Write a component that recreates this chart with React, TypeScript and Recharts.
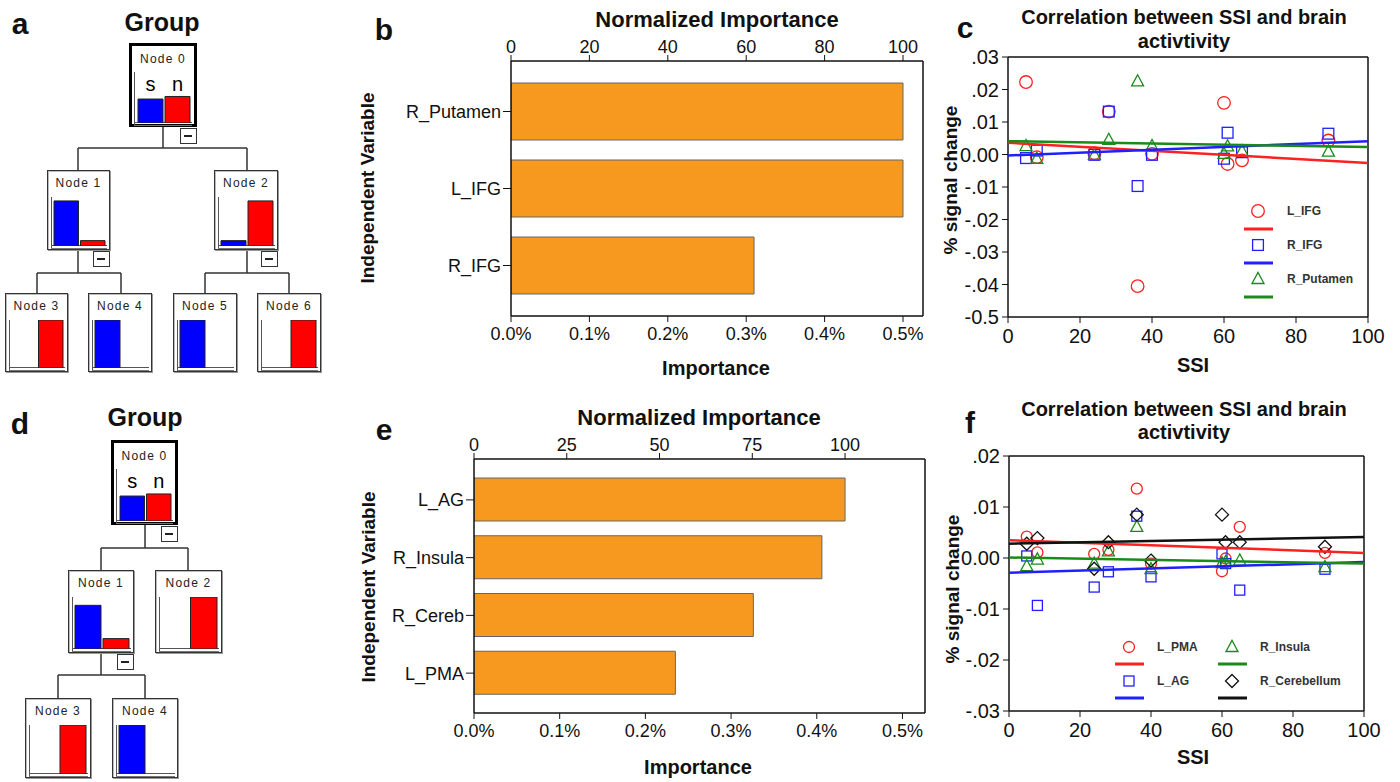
import React from 'react';
import { BarChart, Bar, Cell, XAxis, YAxis, ScatterChart, Scatter, Legend } from 'recharts';

const FONT = '"Liberation Sans", Arial, Helvetica, sans-serif';

// decision trees (a, d): bar height of s / n in each node, % of node scale
const treeALabels = ['Node 0', 'Node 1', 'Node 2', 'Node 3', 'Node 4', 'Node 5', 'Node 6'];
const treeAS = [47, 92, 11, 0, 100, 100, 0];
const treeAN = [52, 11, 92, 100, 0, 0, 100];
const treeDLabels = ['Node 0', 'Node 1', 'Node 2', 'Node 3', 'Node 4'];
const treeDS = [48, 84, 0, 0, 100];
const treeDN = [52, 20, 100, 100, 0];

// importance (b, e)
const bVars = ['R_Putamen', 'L_IFG', 'R_IFG'];
const bImportance = [0.5, 0.5, 0.31];
const bNormTicks = [0, 20, 40, 60, 80, 100];
const eVars = ['L_AG', 'R_Insula', 'R_Cereb', 'L_PMA'];
const eImportance = [0.433, 0.406, 0.326, 0.235];
const eNormTicks = [0, 25, 50, 75, 100];
const impTicks = [0, 0.1, 0.2, 0.3, 0.4, 0.5];

// scatter (c, f)
const ssi = [5, 8, 24, 28, 36, 40, 60, 61, 65, 89];
const ssiTicks = [0, 20, 40, 60, 80, 100];
const fitX = [0, 100];

const cLIFG = [0.0223, -0.0008, 0.0004, 0.0132, -0.0405, 0.0002, 0.0159, -0.0029, -0.0018, 0.0043];
const cRIFG = [-0.0011, 0.0012, -0.0001, 0.0132, -0.0097, -0.0001, -0.0013, 0.0067, 0.0007, 0.0064];
const cRPut = [0.0026, -0.0013, -0.0001, 0.0045, 0.0225, 0.0026, 0.0002, 0.0025, 0.001, 0.0009];
const cFitLIFG = [0.0036, -0.0026];
const cFitRIFG = [-0.0003, 0.0041];
const cFitRPut = [0.0041, 0.0023];
const cYTicks = [0.03, 0.02, 0.01, 0, -0.01, -0.02, -0.03, -0.04, -0.05];
const cYLabels = ['.03', '.02', '.01', '0.00', '-.01', '-.02', '-.03', '-.04', '-0.5'];

const fLPMA = [0.0042, 0.0011, 0.0008, 0.0016, 0.0136, -0.0011, -0.0026, -0.0001, 0.0061, 0.001];
const fLAG = [0.0004, -0.0093, -0.0057, -0.0027, 0.0082, -0.0037, 0.0008, -0.0011, -0.0063, -0.0022];
const fRIns = [-0.0016, -0.0003, -0.0011, 0.0013, 0.0061, -0.0022, -0.001, -0.0008, -0.0005, -0.0018];
const fRCer = [0.0028, 0.0039, -0.0021, 0.0031, 0.0085, -0.0005, 0.0085, 0.0031, 0.0031, 0.0022];
const fFitLPMA = [0.0035, 0.001];
const fFitLAG = [-0.0029, -0.0008];
const fFitRIns = [0.0001, -0.0011];
const fFitRCer = [0.0028, 0.0041];
const fYTicks = [0.02, 0.01, 0, -0.01, -0.02, -0.03];
const fYLabels = ['.02', '.01', '0.00', '-.01', '-.02', '-.03'];

const RED = '#ff2020';
const BLUE = '#2020ff';
const GREEN = '#1a8a1a';
const BLACK = '#111';
const ORANGE = '#F7991F';

const T = ({ x, y, size, bold = true, rotate = 0, children }: any) => (
  <div
    style={{
      position: 'absolute', left: x, top: y, lineHeight: 1, whiteSpace: 'nowrap',
      transform: `translate(-50%, -50%) rotate(${rotate}deg)`,
      fontSize: size, fontWeight: bold ? 700 : 400, color: '#111',
    }}
  >
    {children}
  </div>
);

// ---------- tree nodes ----------
const TreeNode = ({ x, y, w, h, label, s, n, root }: any) => {
  const b = root ? 3 : 1;
  const plotTop = root ? 29 : 27;
  const axisX = root ? 5 : 4;
  const chartL = root ? 8 : 6;
  const chartR = root ? w - 6 : w - 4;
  const plotH = h - 4 - plotTop;
  const cw = chartR - chartL;
  const data = [{ k: 's', v: s }, { k: 'n', v: n }];
  return (
    <div
      style={{
        position: 'absolute', left: x, top: y, width: w, height: h, boxSizing: 'border-box',
        border: root ? '3px solid #000' : '1px solid #333', background: '#fff',
        boxShadow: root ? 'none' : 'inset 1px 1px 0 #bbb, 1px 1px 0 #999',
      }}
    >
      <div style={{ position: 'absolute', left: 0, right: 0, top: (root ? 16 : 13) - b - 6, textAlign: 'center', fontSize: 12, letterSpacing: 1.2, lineHeight: '12px', color: '#222' }}>
        {label}
      </div>
      {root && (
        <>
          <div style={{ position: 'absolute', left: chartL - b + cw / 4 - 10, width: 20, top: 41 - b - 10, textAlign: 'center', fontSize: 20, lineHeight: '20px' }}>s</div>
          <div style={{ position: 'absolute', left: chartL - b + (3 * cw) / 4 - 10, width: 20, top: 41 - b - 10, textAlign: 'center', fontSize: 20, lineHeight: '20px' }}>n</div>
        </>
      )}
      <div style={{ position: 'absolute', left: axisX - b, top: plotTop - b, height: plotH + 2, width: 0, borderLeft: '1.5px solid #555' }} />
      <div style={{ position: 'absolute', left: axisX - b, top: plotTop - b + plotH - 1, width: chartR - axisX + 1, height: 2, borderTop: '1px solid #555', borderBottom: '1px solid #777' }} />
      <div style={{ position: 'absolute', left: chartL - b, top: plotTop - b }}>
        <BarChart width={cw} height={plotH} data={data} margin={{ top: 0, right: 0, bottom: 0, left: 0 }} barCategoryGap={1}>
          <XAxis dataKey="k" hide />
          <YAxis hide domain={[0, 100]} />
          <Bar dataKey="v" barSize={cw / 2 - 2} stroke="#222" strokeWidth={1} isAnimationActive={false}>
            <Cell fill="#0000ff" />
            <Cell fill="#ff0000" />
          </Bar>
        </BarChart>
      </div>
    </div>
  );
};

const Minus = ({ x, y, w, h }: any) => (
  <div style={{ position: 'absolute', left: x + w - 17, top: y + h + 1, width: 17, height: 16, boxSizing: 'border-box', border: '1.5px solid #333', background: '#fff' }}>
    <div style={{ position: 'absolute', left: 3, top: 6, width: 8, borderTop: '2px solid #222' }} />
  </div>
);

const Links = ({ lines }: any) => (
  <svg width={1400} height={782} style={{ position: 'absolute', left: 0, top: 0 }}>
    {lines.map((l: number[], i: number) => (
      <line key={i} x1={l[0]} y1={l[1]} x2={l[2]} y2={l[3]} stroke="#333" strokeWidth={1.5} />
    ))}
  </svg>
);

const posA = [
  { x: 129, y: 43, w: 68, h: 84 }, { x: 47, y: 170, w: 63, h: 80 }, { x: 214, y: 170, w: 64, h: 80 },
  { x: 5, y: 293, w: 63, h: 79 }, { x: 88, y: 293, w: 64, h: 79 }, { x: 173, y: 293, w: 64, h: 79 },
  { x: 257, y: 293, w: 64, h: 79 },
];
const linksA = [
  [163, 127, 163, 148], [78, 148, 247, 148], [78, 148, 78, 170], [247, 148, 247, 170],
  [78, 250, 78, 273], [37, 273, 121, 273], [37, 273, 37, 293], [121, 273, 121, 293],
  [247, 250, 247, 273], [205, 273, 289, 273], [205, 273, 205, 293], [289, 273, 289, 293],
];
const posD = [
  { x: 111, y: 440, w: 67, h: 85 }, { x: 68, y: 570, w: 66, h: 83 }, { x: 155, y: 570, w: 67, h: 83 },
  { x: 25, y: 698, w: 66, h: 80 }, { x: 112, y: 698, w: 66, h: 80 },
];
const linksD = [
  [145, 525, 145, 548], [101, 548, 188, 548], [101, 548, 101, 570], [188, 548, 188, 570],
  [101, 653, 101, 675], [58, 675, 145, 675], [58, 675, 58, 698], [145, 675, 145, 698],
];

// ---------- importance bars ----------
const axisStroke = { stroke: '#111', strokeWidth: 1.5 };

const ImportanceChart = ({ left, top, width, height, margin, vars, imp, normTicks, impMax, barSize, pad }: any) => {
  const data = vars.map((name: string, i: number) => ({ name, imp: imp[i] }));
  const normMax = (impMax / Math.max(...imp)) * 100;
  return (
    <div style={{ position: 'absolute', left, top }}>
      <BarChart layout="vertical" width={width} height={height} data={data} margin={margin}>
        <XAxis xAxisId="imp" type="number" orientation="bottom" domain={[0, impMax]} ticks={impTicks} allowDataOverflow
          tickFormatter={(v: number) => v.toFixed(1) + '%'} height={30} tickSize={6} tickMargin={5}
          tick={{ fill: '#111', fontSize: 18 }} axisLine={axisStroke} tickLine={{ stroke: '#111' }} interval={0} />
        <XAxis xAxisId="norm" type="number" orientation="top" domain={[0, normMax]} ticks={normTicks} allowDataOverflow
          height={30} tickSize={6} tickMargin={2} tick={{ fill: '#111', fontSize: 18 }} axisLine={axisStroke} tickLine={{ stroke: '#111' }} interval={0} />
        <YAxis yAxisId="v" type="category" dataKey="name" width={100} tickSize={8} tickMargin={2} padding={pad}
          tick={{ fill: '#111', fontSize: 18 }} axisLine={axisStroke} tickLine={{ stroke: '#111' }} interval={0} />
        <YAxis yAxisId="r" type="category" dataKey="name" orientation="right" width={1} padding={pad}
          tick={false} tickLine={false} axisLine={axisStroke} />
        <Bar xAxisId="imp" yAxisId="v" dataKey="imp" fill={ORANGE} stroke="#666" strokeWidth={1} barSize={barSize} isAnimationActive={false} />
      </BarChart>
    </div>
  );
};

// ---------- scatter ----------
const marker = (kind: string, cx: number, cy: number, color: string, s: number, key?: any) => {
  const common = { fill: 'none', stroke: color, strokeWidth: 1.3 };
  if (kind === 'circle') return <circle key={key} cx={cx} cy={cy} r={s} {...common} />;
  if (kind === 'square') return <rect key={key} x={cx - s} y={cy - s} width={2 * s} height={2 * s} {...common} />;
  if (kind === 'triangle')
    return <polygon key={key} points={`${cx},${cy - s * 1.1} ${cx - s},${cy + s * 0.75} ${cx + s},${cy + s * 0.75}`} {...common} />;
  return <polygon key={key} points={`${cx},${cy - s} ${cx + s},${cy} ${cx},${cy + s} ${cx - s},${cy}`} {...common} />;
};

const ScatterPanel = ({ left, top, width, height, margin, yDomain, yTicks, yLabels, series, fits, legend, legendPos }: any) => {
  const fmt = (v: number) => {
    const i = yTicks.findIndex((t: number) => Math.abs(t - v) < 1e-9);
    return i >= 0 ? yLabels[i] : '';
  };
  return (
    <div style={{ position: 'absolute', left, top }}>
      <ScatterChart width={width} height={height} margin={margin}>
        <XAxis xAxisId="x" type="number" dataKey="x" domain={[0, 100]} ticks={ssiTicks} height={30} tickSize={6} tickMargin={6}
          tick={{ fill: '#111', fontSize: 20 }} axisLine={axisStroke} tickLine={{ stroke: '#111' }} interval={0} />
        <XAxis xAxisId="xt" type="number" orientation="top" domain={[0, 100]} height={1} tick={false} tickLine={false} axisLine={axisStroke} />
        <YAxis yAxisId="y" type="number" dataKey="y" domain={yDomain} ticks={yTicks} tickFormatter={fmt} width={62} tickSize={6} tickMargin={3}
          tick={{ fill: '#111', fontSize: 20 }} axisLine={axisStroke} tickLine={{ stroke: '#111' }} interval={0} allowDataOverflow />
        <YAxis yAxisId="yr" type="number" orientation="right" domain={yDomain} width={1} tick={false} tickLine={false} axisLine={axisStroke} allowDataOverflow />
        {series.map((s: any) => (
          <Scatter key={s.name} name={s.name} xAxisId="x" yAxisId="y" data={ssi.map((x, i) => ({ x, y: s.ys[i] }))}
            shape={(p: any) => marker(s.kind, p.cx, p.cy, s.color, s.size)} isAnimationActive={false} />
        ))}
        {fits.map((f: any, j: number) => (
          <Scatter key={'fit' + j} xAxisId="x" yAxisId="y" data={fitX.map((x, i) => ({ x, y: f.ys[i] }))}
            line={{ stroke: f.color, strokeWidth: 2.5 }} shape={() => <g />} legendType="none" isAnimationActive={false} />
        ))}
        <Legend layout="vertical" align="center" verticalAlign="middle" content={legend}
          wrapperStyle={{ left: legendPos.left, top: legendPos.top, width: legendPos.width, height: legendPos.height }} />
      </ScatterChart>
    </div>
  );
};

const cSeries = [
  { name: 'L_IFG', ys: cLIFG, color: RED, kind: 'circle', size: 6.3 },
  { name: 'R_IFG', ys: cRIFG, color: BLUE, kind: 'square', size: 5.4 },
  { name: 'R_Putamen', ys: cRPut, color: GREEN, kind: 'triangle', size: 6 },
];
const cFits = [
  { ys: cFitLIFG, color: RED }, { ys: cFitRIFG, color: BLUE }, { ys: cFitRPut, color: GREEN },
];
const fSeries = [
  { name: 'L_PMA', ys: fLPMA, color: RED, kind: 'circle', size: 5.5 },
  { name: 'L_AG', ys: fLAG, color: BLUE, kind: 'square', size: 5 },
  { name: 'R_Insula', ys: fRIns, color: GREEN, kind: 'triangle', size: 6 },
  { name: 'R_Cerebellum', ys: fRCer, color: BLACK, kind: 'diamond', size: 6.5 },
];
const fFits = [
  { ys: fFitLPMA, color: RED }, { ys: fFitLAG, color: BLUE }, { ys: fFitRIns, color: GREEN }, { ys: fFitRCer, color: BLACK },
];

const legendText = { fontSize: 12, fontWeight: 700, fill: '#333', fontFamily: FONT };

const LegendC = () => (
  <svg width={130} height={110}>
    {cSeries.map((s, i) => {
      const y = 16 + i * 34;
      return (
        <g key={s.name}>
          {marker(s.kind, 22, y, s.color, s.size)}
          <text x={51} y={y} dominantBaseline="central" style={legendText}>{s.name}</text>
          <line x1={8} x2={37} y1={y + 18} y2={y + 18} stroke={s.color} strokeWidth={3} />
        </g>
      );
    })}
  </svg>
);

const LegendF = () => (
  <svg width={250} height={80}>
    {fSeries.map((s, i) => {
      const col = Math.floor(i / 2);
      const row = i % 2;
      const mx = 24 + col * 103;
      const y = 17 + row * 34;
      return (
        <g key={s.name}>
          {marker(s.kind, mx, y, s.color, s.size)}
          <text x={mx + 28} y={y} dominantBaseline="central" style={legendText}>{s.name}</text>
          <line x1={mx - 14} x2={mx + 15} y1={y + 17} y2={y + 17} stroke={s.color} strokeWidth={3} />
        </g>
      );
    })}
  </svg>
);

export default function App() {
  return (
    <div style={{ position: 'absolute', left: 0, top: 0, width: 1400, height: 782, background: '#fff', fontFamily: FONT, overflow: 'hidden' }}>
      {/* a */}
      <T x={20} y={24} size={30}>a</T>
      <T x={162} y={22} size={25}>Group</T>
      <Links lines={linksA} />
      {posA.map((p, i) => (
        <TreeNode key={'a' + i} {...p} label={treeALabels[i]} s={treeAS[i]} n={treeAN[i]} root={i === 0} />
      ))}
      {[0, 1, 2].map((i) => <Minus key={'am' + i} {...posA[i]} />)}

      {/* d */}
      <T x={20} y={424} size={30}>d</T>
      <T x={145} y={417} size={25}>Group</T>
      <Links lines={linksD} />
      {posD.map((p, i) => (
        <TreeNode key={'d' + i} {...p} label={treeDLabels[i]} s={treeDS[i]} n={treeDN[i]} root={i === 0} />
      ))}
      {[0, 1].map((i) => <Minus key={'dm' + i} {...posD[i]} />)}

      {/* b */}
      <T x={384} y={30} size={30}>b</T>
      <T x={717} y={20} size={22}>Normalized Importance</T>
      <T x={367} y={188} size={19} rotate={-90}>Independent Variable</T>
      <T x={716} y={368} size={20}>Importance</T>
      <ImportanceChart left={340} top={0} width={600} height={390} margin={{ top: 31, right: 16, bottom: 44, left: 71 }}
        vars={bVars} imp={bImportance} normTicks={bNormTicks} impMax={0.5255} barSize={57} pad={{ top: 12, bottom: 12 }} />

      {/* e */}
      <T x={384} y={430} size={30}>e</T>
      <T x={699} y={418} size={22}>Normalized Importance</T>
      <T x={368} y={587} size={19} rotate={-90}>Independent Variable</T>
      <T x={698} y={767} size={20}>Importance</T>
      <ImportanceChart left={340} top={395} width={600} height={387} margin={{ top: 34, right: 14, bottom: 39, left: 34 }}
        vars={eVars} imp={eImportance} normTicks={eNormTicks} impMax={0.5263} barSize={43} pad={{ top: 12, bottom: 11 }} />

      {/* c */}
      <T x={965} y={28} size={30}>c</T>
      <T x={1184} y={17} size={20}>Correlation between SSI and brain</T>
      <T x={1184} y={41} size={20}>activtivity</T>
      <T x={950} y={180} size={19} rotate={-90}>% signal change</T>
      <T x={1193} y={365} size={20}>SSI</T>
      <ScatterPanel left={938} top={40} width={458} height={330} margin={{ top: 16, right: 27, bottom: 23, left: 8 }}
        yDomain={[-0.05, 0.03]} yTicks={cYTicks} yLabels={cYLabels} series={cSeries} fits={cFits}
        legend={LegendC} legendPos={{ left: 298, top: 155, width: 130, height: 110 }} />

      {/* f */}
      <T x={970} y={423} size={30}>f</T>
      <T x={1184} y={409} size={20}>Correlation between SSI and brain</T>
      <T x={1184} y={432} size={20}>activtivity</T>
      <T x={952} y={589} size={19} rotate={-90}>% signal change</T>
      <T x={1193} y={757} size={20}>SSI</T>
      <ScatterPanel left={938} top={438} width={458} height={344} margin={{ top: 17, right: 31, bottom: 41, left: 9 }}
        yDomain={[-0.03, 0.02]} yTicks={fYTicks} yLabels={fYLabels} series={fSeries} fits={fFits}
        legend={LegendF} legendPos={{ left: 167, top: 192, width: 250, height: 80 }} />
    </div>
  );
}
